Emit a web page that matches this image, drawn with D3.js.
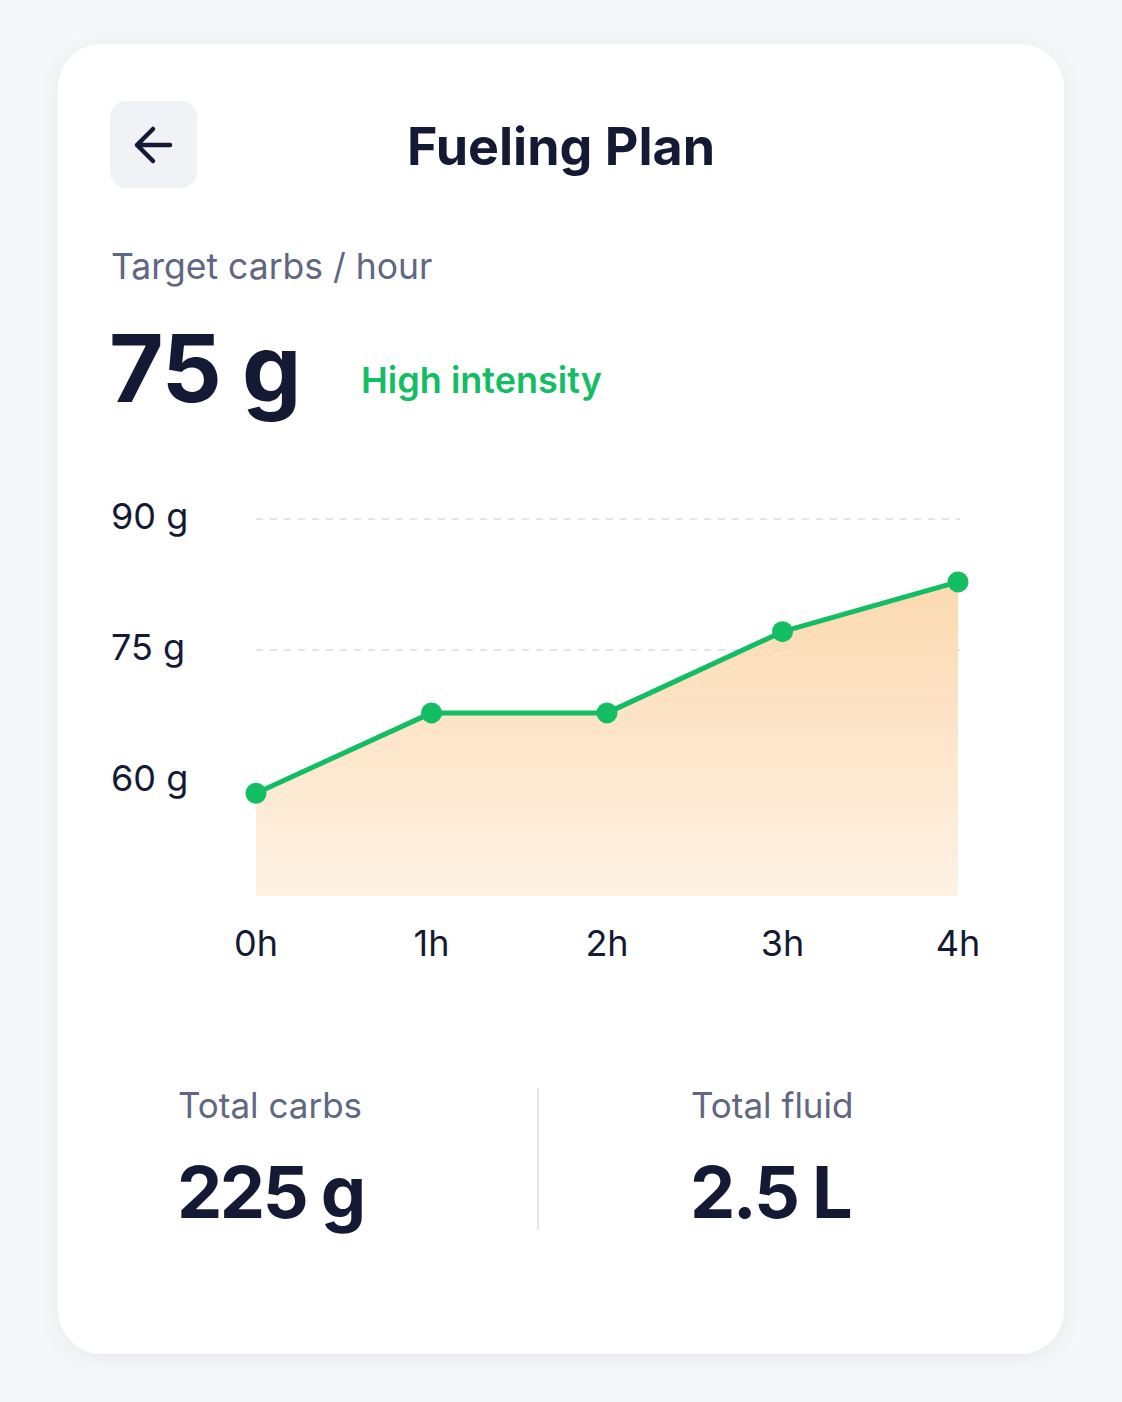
<!DOCTYPE html>
<html>
<head>
<meta charset="utf-8">
<script src="https://cdn.jsdelivr.net/npm/d3@7"></script>
<style>
  html, body { margin: 0; padding: 0; background: #f6f7f9; }
  svg { display: block; font-family: Inter, "Noto Sans", sans-serif; }
</style>
</head>
<body>
<div id="card"></div>
<script>
// data
var hours = [0, 1, 2, 3, 4];
var carbsPerHour = [58.6, 67.8, 67.8, 77.1, 82.8];
var hourLabels = ["0h", "1h", "2h", "3h", "4h"];
var yTicks = [60, 75, 90];
var gridTicks = [75, 90];

var W = 1122, H = 1402;
var navy = "#141a33", grey = "#5f6782", green = "#12bd63";

var svg = d3.select("#card").append("svg")
  .attr("width", W)
  .attr("height", H);

var defs = svg.append("defs");

var shadow = defs.append("filter").attr("id", "shadow")
  .attr("x", "-10%").attr("y", "-10%").attr("width", "120%").attr("height", "120%");
shadow.append("feDropShadow")
  .attr("dx", 0).attr("dy", 4).attr("stdDeviation", 10)
  .attr("flood-color", "#1c2340").attr("flood-opacity", 0.06);

var grad = defs.append("linearGradient").attr("id", "areaFill")
  .attr("x1", 0).attr("y1", 0).attr("x2", 0).attr("y2", 1);
grad.append("stop").attr("offset", "0%").attr("stop-color", "#fcd9b0");
grad.append("stop").attr("offset", "100%").attr("stop-color", "#fef2e4");

// card
svg.append("rect")
  .attr("x", 58).attr("y", 44)
  .attr("width", 1006).attr("height", 1310)
  .attr("rx", 44)
  .attr("fill", "#fff")
  .attr("filter", "url(#shadow)");

// back button
svg.append("rect")
  .attr("x", 110).attr("y", 101)
  .attr("width", 87).attr("height", 87)
  .attr("rx", 16)
  .attr("fill", "#f1f2f5");

svg.append("path")
  .attr("d", "M170,145 H137 M153,129 L137,145 L153,161")
  .attr("fill", "none")
  .attr("stroke", navy)
  .attr("stroke-width", 4.5)
  .attr("stroke-linecap", "round")
  .attr("stroke-linejoin", "round");

// header texts
svg.append("text")
  .attr("x", 561).attr("y", 165)
  .attr("text-anchor", "middle")
  .style("font-size", "52px").style("font-weight", 700)
  .style("fill", navy)
  .text("Fueling Plan");

svg.append("text")
  .attr("x", 111).attr("y", 279)
  .style("font-size", "35.5px").style("font-weight", 400)
  .style("fill", grey)
  .text("Target carbs / hour");

svg.append("text")
  .attr("x", 109).attr("y", 402)
  .style("font-size", "94px").style("font-weight", 700)
  .style("letter-spacing", "-1px")
  .style("fill", navy)
  .text("75 g");

svg.append("text")
  .attr("x", 361).attr("y", 393)
  .style("font-size", "36px").style("font-weight", 600)
  .style("fill", green)
  .text("High intensity");

// chart
var plotBottom = 896;

var x = d3.scaleLinear()
  .domain([0, 4])
  .range([256, 958]);

var y = d3.scaleLinear()
  .domain([60, 90])
  .range([781, 519]);

var chart = svg.append("g");

chart.selectAll(".grid")
  .data(gridTicks)
  .enter()
  .append("line")
  .attr("x1", x(0)).attr("x2", x(4) + 2)
  .attr("y1", function(d) { return y(d); })
  .attr("y2", function(d) { return y(d); })
  .attr("stroke", "#e3e4ee")
  .attr("stroke-width", 2)
  .attr("stroke-dasharray", "7 7");

chart.selectAll(".ylab")
  .data(yTicks)
  .enter()
  .append("text")
  .attr("x", 111)
  .attr("y", function(d) { return y(d) + 10; })
  .style("font-size", "36px")
  .style("fill", navy)
  .text(function(d) { return d + " g"; });

var pts = hours.map(function(h, i) { return [h, carbsPerHour[i]]; });

var area = d3.area()
  .x(function(d) { return x(d[0]); })
  .y0(plotBottom)
  .y1(function(d) { return y(d[1]); });

var line = d3.line()
  .x(function(d) { return x(d[0]); })
  .y(function(d) { return y(d[1]); });

chart.append("path")
  .datum(pts)
  .attr("d", area)
  .attr("fill", "url(#areaFill)");

chart.append("path")
  .datum(pts)
  .attr("d", line)
  .attr("fill", "none")
  .attr("stroke", green)
  .attr("stroke-width", 5)
  .attr("stroke-linejoin", "round");

chart.selectAll(".dot")
  .data(pts)
  .enter()
  .append("circle")
  .attr("cx", function(d) { return x(d[0]); })
  .attr("cy", function(d) { return y(d[1]); })
  .attr("r", 10.5)
  .attr("fill", green);

chart.selectAll(".xlab")
  .data(hours)
  .enter()
  .append("text")
  .attr("x", function(d) { return x(d); })
  .attr("y", 956)
  .attr("text-anchor", "middle")
  .style("font-size", "36px")
  .style("fill", navy)
  .text(function(d, i) { return hourLabels[i]; });

// totals
svg.append("line")
  .attr("x1", 538).attr("x2", 538)
  .attr("y1", 1088).attr("y2", 1230)
  .attr("stroke", "#e3e5eb")
  .attr("stroke-width", 2);

var totals = [
  { label: "Total carbs", value: "225 g", x: 178 },
  { label: "Total fluid", value: "2.5 L", x: 691 }
];

totals.forEach(function(t) {
  svg.append("text")
    .attr("x", t.x).attr("y", 1118)
    .style("font-size", "35px")
    .style("fill", grey)
    .text(t.label);
  svg.append("text")
    .attr("x", t.x - 1).attr("y", 1218)
    .style("font-size", "72px").style("font-weight", 700)
    .style("letter-spacing", "-2.5px")
    .style("fill", navy)
    .text(t.value);
});
</script>
</body>
</html>
